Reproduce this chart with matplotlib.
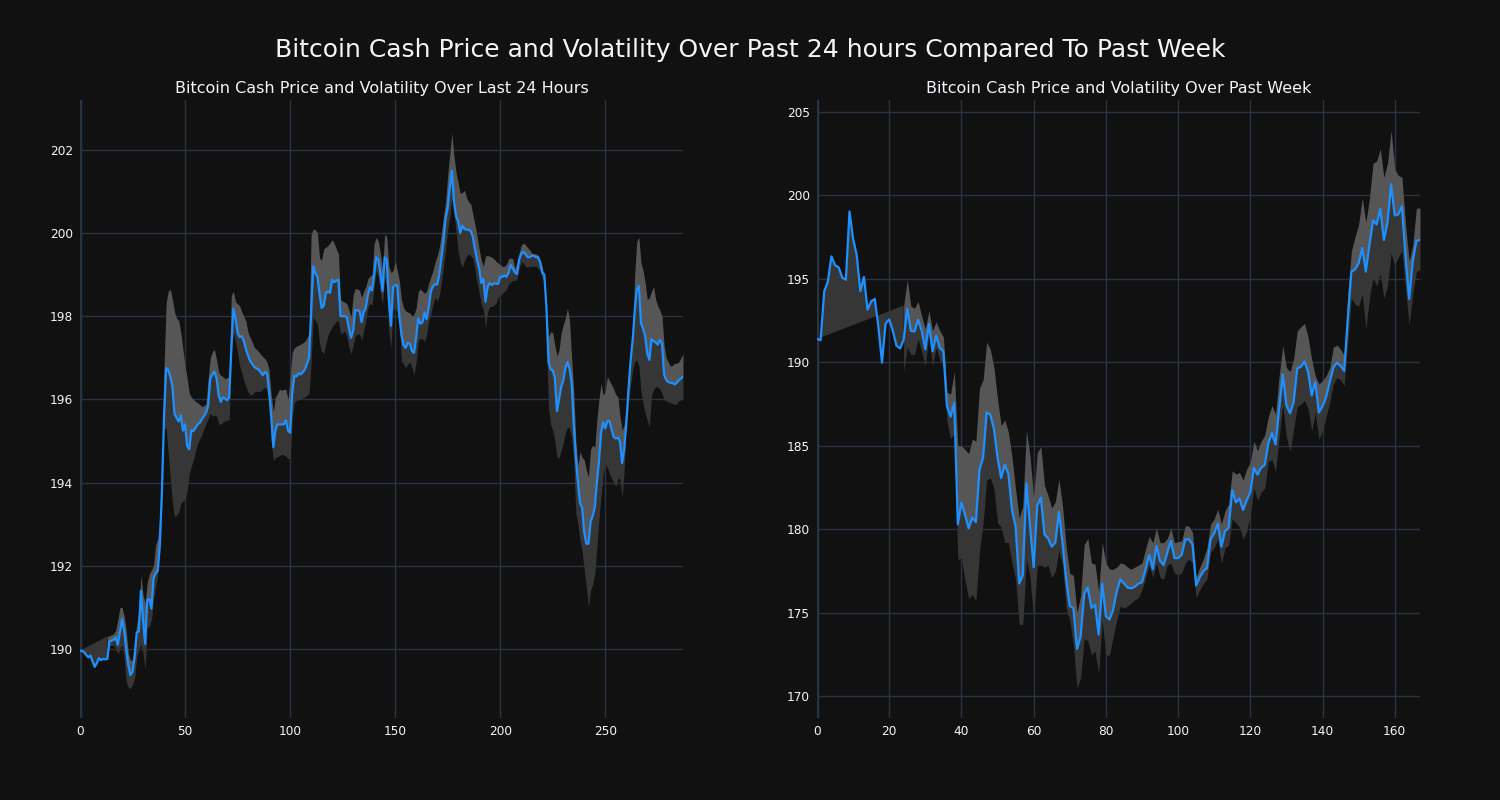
import numpy as np
import matplotlib.pyplot as plt

# Dane: cena i pasmo zmienności (24h, co 5 min)
price_24h = [
    189.96, 189.95, 189.92, 189.85, 189.8, 189.84, 189.7, 189.57, 189.66, 189.78,
    189.73, 189.76, 189.75, 189.76, 190.18, 190.2, 190.22, 190.28, 190.1, 190.4,
    190.72, 190.45, 190.0, 189.6, 189.37, 189.45, 189.8, 190.4, 190.42, 191.4,
    190.7, 190.12, 191.17, 191.2, 190.97, 191.7, 191.82, 191.88, 192.5, 193.8,
    195.6, 196.76, 196.7, 196.55, 196.3, 195.65, 195.55, 195.47, 195.62, 195.25,
    195.4, 194.88, 194.8, 195.26, 195.24, 195.32, 195.4, 195.44, 195.52, 195.6,
    195.68, 195.85, 196.5, 196.6, 196.67, 196.5, 196.1, 195.94, 196.05, 196.02,
    195.98, 196.05, 197.2, 198.18, 197.95, 197.6, 197.5, 197.52, 197.4, 197.2,
    197.05, 196.92, 196.85, 196.78, 196.74, 196.72, 196.65, 196.58, 196.66, 196.62,
    196.2, 195.6, 194.85, 195.26, 195.4, 195.4, 195.4, 195.4, 195.5, 195.25,
    195.2, 196.15, 196.57, 196.55, 196.63, 196.6, 196.65, 196.72, 196.85, 197.0,
    198.06, 199.2, 199.03, 198.95, 198.55, 198.2, 198.25, 198.55, 198.6, 198.56,
    198.88, 198.82, 198.86, 198.87, 198.0, 198.0, 198.0, 197.98, 197.7, 197.48,
    197.65, 198.15, 198.14, 198.13, 197.86, 198.1, 198.2, 198.5, 198.7, 198.62,
    199.0, 199.42, 199.36, 199.0, 198.61, 199.42, 199.35, 198.4, 197.77, 198.7,
    198.75, 198.75, 198.0, 197.56, 197.3, 197.24, 197.36, 197.34, 197.16, 197.12,
    197.5, 197.95, 197.82, 197.85, 198.09, 197.93, 198.22, 198.6, 198.72, 198.77,
    198.76, 199.0, 199.4, 199.8, 200.35, 200.6, 201.1, 201.5, 200.75, 200.4,
    200.28, 200.0, 200.18, 200.1, 200.08, 200.08, 200.05, 199.9, 199.6, 199.35,
    199.15, 198.8, 198.9, 198.35, 198.7, 198.8, 198.75, 198.79, 198.78, 198.78,
    198.95, 198.95, 198.98, 198.95, 199.05, 199.24, 199.15, 199.05, 199.02, 199.36,
    199.5, 199.55, 199.5, 199.42, 199.42, 199.45, 199.46, 199.42, 199.42, 199.3,
    199.05, 199.0, 198.2, 196.9, 196.72, 196.7, 196.52, 195.72, 196.0, 196.3,
    196.45, 196.75, 196.9, 196.74, 196.4, 195.4, 194.6, 194.0, 193.5, 193.4,
    192.8, 192.53, 192.53, 193.05, 193.2, 193.4, 194.0, 194.5, 195.2, 195.45,
    195.3, 195.48, 195.48, 195.28, 195.1, 195.06, 195.08, 195.0, 194.47, 194.8,
    195.4, 196.2, 196.9, 197.4, 198.1, 198.63, 198.73, 197.83, 197.7, 197.52,
    197.1, 196.95, 197.45, 197.4, 197.37, 197.32, 197.43, 197.35, 196.6, 196.47,
    196.42, 196.4, 196.4, 196.36, 196.4, 196.46, 196.5, 196.55,
]
upper_24h = [None] * 13 + [
    190.3, 190.32, 190.34, 190.36, 190.45, 190.7, 191.0,
    191.0, 190.8, 190.44, 189.9, 189.72, 189.75, 190.2, 190.6, 190.9, 191.77,
    191.3, 191.1, 191.6, 191.8, 191.9, 192.0, 192.5, 192.65, 193.2, 194.5,
    196.8, 198.33, 198.6, 198.65, 198.4, 198.1, 197.95, 197.9, 197.6, 197.2,
    196.8, 196.5, 196.15, 196.05, 196.0, 195.95, 195.92, 195.88, 195.83, 195.85,
    195.9, 196.5, 197.0, 197.15, 197.2, 196.95, 196.65, 196.58, 196.55, 196.5,
    196.52, 196.55, 198.5, 198.6, 198.35, 198.3, 198.25, 198.1, 198.0, 197.88,
    197.6, 197.48, 197.38, 197.25, 197.2, 197.15, 197.08, 197.03, 196.98, 196.9,
    196.7, 196.1, 195.7, 196.05, 196.15, 196.25, 196.22, 196.24, 196.25, 196.0,
    196.5, 197.14, 197.24, 197.28, 197.3, 197.33, 197.36, 197.4, 197.48, 197.6,
    199.96, 200.1, 200.08, 200.0, 199.4, 199.35, 199.62, 199.66, 199.7, 199.76,
    199.84, 199.75, 199.62, 199.5, 198.4, 198.36, 198.34, 198.3, 198.15, 197.98,
    198.5, 198.67, 198.65, 198.63, 198.45, 198.6, 198.71, 198.9, 198.97, 199.0,
    199.75, 199.9, 199.8, 199.5, 199.1, 199.98, 199.9, 199.2, 199.05, 199.1,
    199.34, 199.1, 198.85, 198.4, 198.2, 198.13, 198.1, 198.08, 198.0, 198.05,
    198.2, 198.6, 198.66, 198.6, 198.55, 198.6, 198.8, 198.95, 199.1, 199.3,
    199.45, 199.65, 200.0, 200.4, 200.75, 201.4, 201.9, 202.4, 201.85, 201.45,
    201.2, 200.95, 200.98, 201.03, 200.85, 200.75, 200.7, 200.45, 200.2, 199.92,
    199.6, 199.35, 199.2, 199.45, 199.46, 199.44, 199.42, 199.38, 199.32, 199.28,
    199.24, 199.2, 199.2, 199.25, 199.38, 199.4, 199.38, 199.15, 199.3, 199.52,
    199.7, 199.76, 199.72, 199.65, 199.6, 199.52, 199.5, 199.5, 199.47, 199.35,
    199.2, 198.9, 198.2, 197.5, 197.63, 197.6, 197.3, 197.05, 197.19, 197.6,
    197.8, 197.95, 198.2, 197.9, 197.0, 196.2, 195.0, 194.4, 194.75, 194.6,
    194.55, 194.3, 194.14, 194.8, 194.9, 194.85, 195.5, 196.0, 196.39, 196.1,
    196.2, 196.55, 196.45, 196.35, 196.25, 196.12, 196.06, 195.6, 195.25, 195.4,
    195.82, 196.6, 197.1, 197.6, 199.0, 199.8, 199.9, 199.28, 199.1, 198.8,
    198.4, 198.45, 198.6, 198.71, 198.4, 198.25, 198.15, 198.0, 197.3, 197.0,
    196.9, 196.8, 196.82, 196.87, 196.87, 196.9, 197.0, 197.1,
]
lower_24h = [None] * 13 + [
    189.72, 190.08, 190.08, 190.1, 190.0, 189.88, 190.0,
    190.1, 189.8, 189.2, 189.08, 189.05, 189.15, 189.3, 189.8, 190.0, 190.1,
    189.9, 189.52, 190.5, 190.55, 190.7, 191.2, 191.5, 191.8, 192.3, 193.5,
    195.3, 195.3, 194.7, 194.1, 193.5, 193.18, 193.22, 193.3, 193.5, 193.56,
    193.6, 193.8, 194.2, 194.4, 194.55, 194.77, 194.95, 195.05, 195.15, 195.3,
    195.42, 195.55, 195.66, 195.6, 195.62, 195.6, 195.42, 195.4, 195.46, 195.48,
    195.5, 195.5, 197.0, 197.6, 197.4, 197.1, 196.8, 196.65, 196.45, 196.3,
    196.18, 196.1, 196.12, 196.18, 196.2, 196.19, 196.2, 196.25, 196.3, 196.2,
    195.95, 195.0, 194.53, 194.6, 194.62, 194.65, 194.68, 194.66, 194.64, 194.58,
    194.56, 195.5, 195.93, 195.97, 196.0, 196.02, 196.04, 196.06, 196.1, 196.13,
    196.9, 197.98, 197.9, 197.8, 197.35, 197.15, 197.1, 197.34, 197.55, 197.65,
    197.75, 197.82, 197.88, 197.9, 197.58, 197.6, 197.65, 197.5, 197.26, 197.1,
    197.3, 197.54, 197.56, 197.58, 197.42, 197.65, 197.9, 198.2, 198.31, 198.27,
    198.7, 199.1, 198.95, 198.55, 198.3, 198.9, 198.7, 197.6, 197.24, 198.15,
    198.2, 198.1, 197.8, 196.92, 196.85, 196.76, 196.85, 196.9, 196.76, 196.6,
    196.9, 197.4, 197.48, 197.45, 197.4, 197.56, 197.9, 198.05, 198.3, 198.45,
    198.37, 198.5, 198.8, 199.2, 199.6, 200.06, 200.4, 200.85, 200.5, 200.0,
    199.55, 199.3, 199.18, 199.34, 199.45, 199.5, 199.45, 199.4, 199.12, 198.8,
    198.55, 198.3, 198.15, 197.75, 198.1, 198.23, 198.23, 198.27, 198.31, 198.45,
    198.5, 198.55, 198.6, 198.65, 198.78, 198.82, 198.87, 198.85, 198.9, 199.15,
    199.3, 199.28, 199.2, 199.18, 199.2, 199.2, 199.2, 199.2, 199.15, 199.1,
    198.9, 198.8, 197.4, 195.8, 195.4, 195.26, 195.0, 194.6, 194.6, 194.78,
    194.95, 195.2, 195.34, 195.3, 195.1, 194.5, 193.25, 193.0, 192.6, 192.35,
    191.9, 191.49, 191.0, 191.4, 191.55, 191.8, 192.45, 193.1, 193.7, 194.2,
    194.46, 194.35, 194.22, 194.1, 194.0, 193.9, 194.1, 194.1, 193.65, 194.3,
    195.4, 195.9, 196.3, 196.7, 196.9, 196.95, 196.8, 196.2, 195.9, 195.66,
    195.5, 195.34, 196.1, 196.25, 196.3, 196.3, 196.25, 196.14, 196.0, 195.96,
    195.94, 195.92, 195.9, 195.88, 195.9, 195.96, 196.0, 196.02,
]

# Dane: cena i pasmo zmienności (tydzień, co godzinę)
price_week = [
    191.4, 191.32, 194.26, 194.83, 196.35, 195.81, 195.69, 195.07, 194.95, 199.04,
    197.4, 196.42, 194.26, 195.12, 193.16, 193.65, 193.8, 192.13, 189.98, 192.33,
    192.57, 191.89, 191.0, 190.83, 191.35, 193.21, 191.89, 191.84, 192.55, 191.89,
    190.78, 192.3, 190.66, 191.59, 190.86, 190.66, 187.35, 186.74, 187.57, 180.29,
    181.59, 180.86, 180.05, 180.69, 180.42, 183.55, 184.29, 186.99, 186.86, 186.0,
    184.29, 183.06, 183.85, 183.31, 181.15, 180.17, 176.74, 177.23, 182.75, 180.17,
    177.72, 181.4, 181.89, 179.68, 179.44, 178.95, 179.19, 181.03, 179.19, 176.99,
    175.39, 175.27, 172.82, 173.55, 176.13, 176.5, 175.27, 175.47, 173.68, 176.74,
    174.78, 174.58, 175.15, 176.25, 176.99, 176.74, 176.5, 176.45, 176.54, 176.74,
    176.81, 177.6, 178.46, 177.6, 178.99, 178.09, 177.84, 178.58, 179.31, 178.26,
    178.26, 178.46, 179.39, 179.39, 179.07, 176.62, 177.11, 177.48, 177.67, 179.39,
    179.75, 180.32, 178.95, 179.88, 180.07, 182.33, 181.6, 181.84, 181.15, 181.72,
    182.21, 183.68, 183.26, 183.68, 183.85, 185.15, 185.76, 185.07, 187.23, 189.26,
    187.43, 186.94, 187.6, 189.63, 189.73, 190.05, 189.44, 188.01, 188.82, 186.99,
    187.35, 187.92, 188.82, 189.68, 189.98, 189.78, 189.49, 192.62, 195.44, 195.56,
    195.93, 196.84, 195.44, 197.03, 198.5, 198.26, 199.19, 197.33, 198.38, 200.66,
    198.8, 198.87, 199.36, 196.3, 193.8, 196.05, 197.28, 197.33,
]
upper_week = [None] * 24 + [
    193.4, 194.95, 193.36, 193.24, 193.65, 192.75,
    192.0, 193.1, 191.9, 192.43, 191.9, 191.52, 188.21, 188.09, 189.44, 185.02,
    184.98, 184.78, 184.53, 185.39, 185.27, 188.45, 188.95, 191.2, 190.78, 189.68,
    187.8, 186.2, 186.54, 185.81, 184.34, 182.38, 180.66, 181.4, 185.93, 184.34,
    181.89, 184.58, 184.95, 182.62, 182.0, 181.27, 181.64, 182.99, 181.4, 178.95,
    177.35, 177.23, 175.02, 176.0, 179.07, 179.44, 177.97, 177.9, 176.25, 179.19,
    177.97, 177.6, 177.6, 177.72, 177.97, 177.92, 177.72, 177.6, 177.72, 177.84,
    177.97, 178.82, 179.56, 179.19, 180.05, 179.19, 179.19, 179.44, 180.05, 179.19,
    179.24, 179.3, 180.22, 180.17, 179.8, 177.1, 177.72, 178.21, 178.9, 180.3,
    180.61, 181.2, 180.3, 181.1, 181.5, 183.5, 183.3, 183.4, 182.94, 183.6,
    184.0, 185.27, 184.7, 185.27, 185.64, 186.74, 187.4, 186.9, 189.19, 191.0,
    189.68, 189.44, 190.2, 191.89, 192.13, 192.33, 191.5, 190.17, 189.19, 188.7,
    188.9, 189.19, 189.68, 190.91, 191.03, 190.78, 190.42, 194.09, 196.67, 197.52,
    198.26, 199.85, 198.38, 199.85, 201.94, 202.06, 202.79, 201.08, 201.94, 203.9,
    201.57, 201.2, 201.08, 198.26, 196.05, 197.03, 199.24, 199.24,
]
lower_week = [None] * 24 + [
    189.44, 190.9, 190.47, 190.47, 191.4, 190.66,
    189.8, 191.64, 189.8, 190.9, 190.17, 189.68, 186.45, 185.4, 185.76, 178.16,
    178.28, 176.94, 175.83, 176.08, 175.71, 178.65, 180.37, 182.94, 183.06, 182.45,
    180.37, 180.12, 179.2, 179.2, 177.97, 177.0, 174.29, 174.29, 178.2, 177.1,
    174.66, 177.84, 177.84, 177.72, 177.84, 177.1, 177.48, 178.7, 177.84, 175.27,
    174.53, 173.06, 170.49, 171.1, 173.43, 173.31, 172.45, 172.7, 171.35, 174.53,
    172.45, 172.45, 173.55, 174.53, 175.39, 175.27, 175.39, 175.56, 175.76, 175.88,
    176.37, 177.1, 177.84, 177.1, 177.97, 177.1, 176.99, 177.84, 177.97, 177.35,
    177.28, 177.35, 177.97, 178.2, 177.97, 175.88, 176.37, 176.74, 177.0, 178.6,
    178.9, 179.39, 177.92, 178.9, 179.02, 180.61, 180.37, 180.12, 179.39, 179.88,
    180.86, 182.45, 181.72, 182.21, 182.45, 184.04, 184.17, 183.43, 185.51, 187.48,
    185.51, 184.66, 186.0, 187.35, 187.48, 187.72, 187.23, 185.88, 186.99, 185.39,
    185.88, 186.74, 187.6, 188.7, 189.07, 188.95, 188.58, 191.15, 193.85, 193.48,
    193.36, 194.09, 192.01, 193.85, 195.07, 194.58, 195.32, 193.85, 194.58, 196.54,
    195.81, 196.3, 196.67, 194.34, 192.25, 194.09, 195.44, 195.56,
]

title = 'Bitcoin Cash Price and Volatility Over Past 24 hours Compared To Past Week'
sub_titles = ['Bitcoin Cash Price and Volatility Over Last 24 Hours',
              'Bitcoin Cash Price and Volatility Over Past Week']

BG = '#111111'
GRID = '#283442'
TXT = '#f2f5fa'
LIGHT = '#565656'
DARK = '#363636'


def draw(ax, price, upper, lower, sub_title, xticks, yticks, ylim):
    price = np.array(price, dtype=float)
    upper = np.array(upper, dtype=float)
    lower = np.array(lower, dtype=float)
    x = np.arange(len(price))

    # pierwszy punkt z policzonym pasmem - wcześniej wielokąt do ceny startowej
    fv = int(np.argmax(~np.isnan(upper)))
    ax.fill(np.r_[x[:fv + 1], x[fv]], np.r_[price[:fv + 1], upper[fv]],
            color=DARK, lw=0, zorder=2)
    ax.fill_between(x, lower, price, color=DARK, lw=0, zorder=2)
    ax.fill_between(x, price, upper, color=LIGHT, lw=0, zorder=2)
    ax.plot(x, price, color='#1E90FF', lw=1.6, zorder=3)

    ax.set_facecolor(BG)
    ax.set_xlim(0, len(price) - 1)
    ax.set_ylim(*ylim)
    ax.set_xticks(xticks)
    ax.set_yticks(yticks)
    ax.grid(True, color=GRID, lw=1)
    ax.set_axisbelow(True)
    ax.axvline(0, color=GRID, lw=2.5, zorder=1)
    for s in ax.spines.values():
        s.set_visible(False)
    ax.tick_params(colors=TXT, labelsize=8.7, length=0, pad=5)
    ax.set_title(sub_title, color=TXT, fontsize=11.5, pad=5)


fig = plt.figure(figsize=(15, 8), dpi=100, facecolor=BG)
ax1 = fig.add_axes([80 / 1500, 82 / 800, 603 / 1500, 618 / 800])
ax2 = fig.add_axes([817 / 1500, 82 / 800, 603 / 1500, 618 / 800])

draw(ax1, price_24h, upper_24h, lower_24h, sub_titles[0],
     range(0, 251, 50), range(190, 203, 2), (188.34, 203.2))
draw(ax2, price_week, upper_week, lower_week, sub_titles[1],
     range(0, 161, 20), range(170, 206, 5), (168.68, 205.72))

fig.text(0.5, 1 - 50 / 800, title, color=TXT, fontsize=18, ha='center', va='center')

fig.savefig('out.png', facecolor=BG)
